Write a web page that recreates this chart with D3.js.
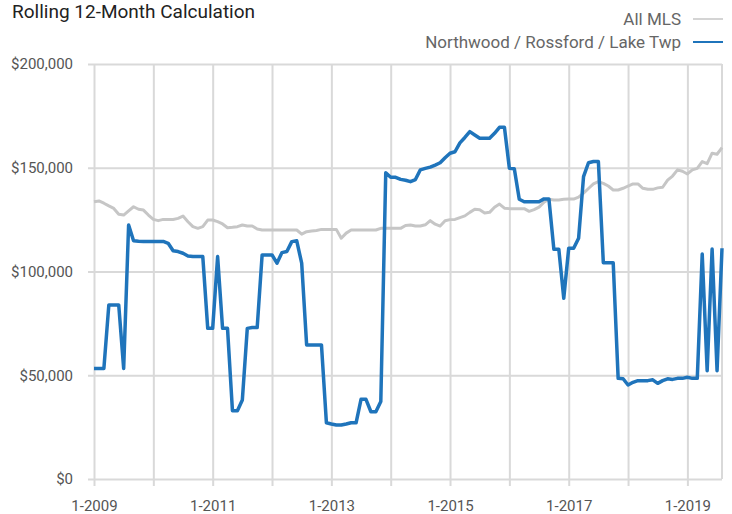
<!DOCTYPE html>
<html><head><meta charset="utf-8">
<script src="https://cdn.jsdelivr.net/npm/d3@7/dist/d3.min.js"></script>
<style>
body{margin:0;background:#fff;}
svg{display:block;}
text{font-family:"Roboto",sans-serif;}
</style></head>
<body><svg id="c" width="732" height="514"></svg>
<script>
// Monthly data, 1-2009 through 8-2019 (values in $)
const startYear = 2009;
const months = d3.range(128); // month index from 1-2009
const allMLS = [
133.6,134,132.9,131.6,130.4,127.6,127.2,129.2,131.2,130,129.6,127.2,
125.1,124.5,125.1,125.1,125.1,125.6,126.7,124,121.6,120.8,121.6,124.8,
124.8,124,122.9,121.1,121.3,121.6,122.4,121.9,121.9,120.5,120,120,
120,120,120,120,120,120,118,119.2,119.5,119.8,120.3,120.3,
120.3,120.3,116,118.5,120,120,120,120,120,120,120.8,120.8,
120.8,120.8,120.8,122.2,122.4,121.9,121.9,122.5,124.5,122.8,121.9,124.5,
125,125.1,126,126.8,128.5,130,129.8,128.2,128.5,131,132.5,130.5,
130.3,130.3,130.3,130.3,129,129.8,131,133.4,134.8,134.5,134.5,134.8,
134.9,134.9,135.8,137.8,140,142.2,143.3,142.5,141.2,139.3,139.3,140.1,
141.2,142.2,142.2,140.1,139.6,139.6,140.3,140.6,144,146,149,148.3,
147,149,149.7,153,152,157,156.5,159.7
].map(v => v * 1000);
const northwood = [
53.3,53.3,53.3,83.9,83.9,83.9,53.3,122.4,114.8,114.6,114.5,114.5,
114.5,114.5,114.5,113.6,110,109.6,108.8,107.5,107.2,107.2,107.2,72.6,
72.6,107.2,72.6,72.6,32.9,32.9,38.1,72.6,73,73,108,108,
108,104,109.1,109.6,114.4,114.8,104,64.6,64.6,64.6,64.6,27.1,
26.5,26,26,26.5,27.1,27.1,38.4,38.4,32.4,32.4,37.3,147.6,
145.4,145.4,144.4,144,143.3,144.3,149,149.7,150.3,151.3,152.4,154.8,
157,157.7,162,164.6,167.4,165.8,164.2,164.2,164.2,166.6,169.5,169.5,
149.7,149.5,134.8,133.6,133.6,133.6,133.6,135,135,110.7,110.7,87.1,
111.2,111.2,116,145.7,152.4,153,153,104.2,104.2,104.2,48.5,48.3,
45.3,46.6,47.4,47.4,47.4,47.8,46.1,47.4,48.3,48,48.5,48.5,
49,48.5,48.5,108.4,52.2,110.8,52.2,111.2
].map(v => v * 1000);
const yTicks = [0, 50000, 100000, 150000, 200000];
const xTicks = d3.range(0, 121, 12); // every January
const seriesNames = ["All MLS", "Northwood / Rossford / Lake Twp"];
const seriesColors = ["#c6c6c6", "#1f74bb"];
const title = "Rolling 12-Month Calculation";

const svg = d3.select("#c");
const m = {left: 94, right: 10, top: 64, bottom: 35};
const W = 732, H = 514;
const x = d3.scaleLinear().domain([0, 127]).range([m.left, W - m.right]);
const y = d3.scaleLinear().domain([0, 200000]).range([H - m.bottom, m.top]);

const grid = "#d9d9d9";
// horizontal grid + y labels
const yAxis = svg.append("g").attr("transform", `translate(${m.left},0)`)
  .call(d3.axisLeft(y).tickValues(yTicks).tickSizeInner(-(x.range()[1]-m.left)).tickSizeOuter(0).tickPadding(0)
    .tickFormat(d => "$" + d3.format(",")(d)));
yAxis.select(".domain").remove();
yAxis.selectAll(".tick line").attr("stroke", grid).attr("stroke-width", 2).attr("x1", -6);
yAxis.selectAll(".tick text").attr("x", -21).attr("fill", "#555").style("font-size", "15px");

// vertical grid + x labels
const xAxis = svg.append("g").attr("transform", `translate(0,${H - m.bottom})`)
  .call(d3.axisBottom(x).tickValues(xTicks).tickSize(7).tickPadding(0)
    .tickFormat(d => ((d / 12) % 2 === 0) ? "1-" + (startYear + d / 12) : ""));
xAxis.select(".domain").remove();
xAxis.selectAll(".tick line").attr("stroke", grid).attr("stroke-width", 2).attr("y1", -(y.range()[0]-m.top));
xAxis.selectAll(".tick text").attr("y", 21).attr("dy", "0.71em").attr("fill", "#555").style("font-size", "15px");
// right border line
svg.append("line").attr("x1", x(127)).attr("x2", x(127)).attr("y1", y(200000)).attr("y2", y(0))
  .attr("stroke", grid).attr("stroke-width", 2);

const line = d3.line().x((d, i) => x(months[i])).y(d => y(d));
svg.append("path").datum(allMLS).attr("d", line).attr("fill", "none")
  .attr("stroke", seriesColors[0]).attr("stroke-width", 3).attr("stroke-linejoin", "round");
svg.append("path").datum(northwood).attr("d", line).attr("fill", "none")
  .attr("stroke", seriesColors[1]).attr("stroke-width", 3.5).attr("stroke-linejoin", "round");

// title
svg.append("text").attr("x", 12).attr("y", 18).text(title)
  .attr("fill", "#222").style("font-size", "19px");

// legend
seriesNames.forEach((n, i) => {
  const ly = 19 + i * 23;
  svg.append("text").attr("x", 681).attr("y", ly).attr("dy", "0.35em").attr("text-anchor", "end")
    .attr("fill", "#666").style("font-size", "17px").text(n);
  svg.append("line").attr("x1", 693).attr("x2", 723).attr("y1", ly).attr("y2", ly)
    .attr("stroke", seriesColors[i]).attr("stroke-width", i === 0 ? 1.5 : 2);
});
</script></body></html>
